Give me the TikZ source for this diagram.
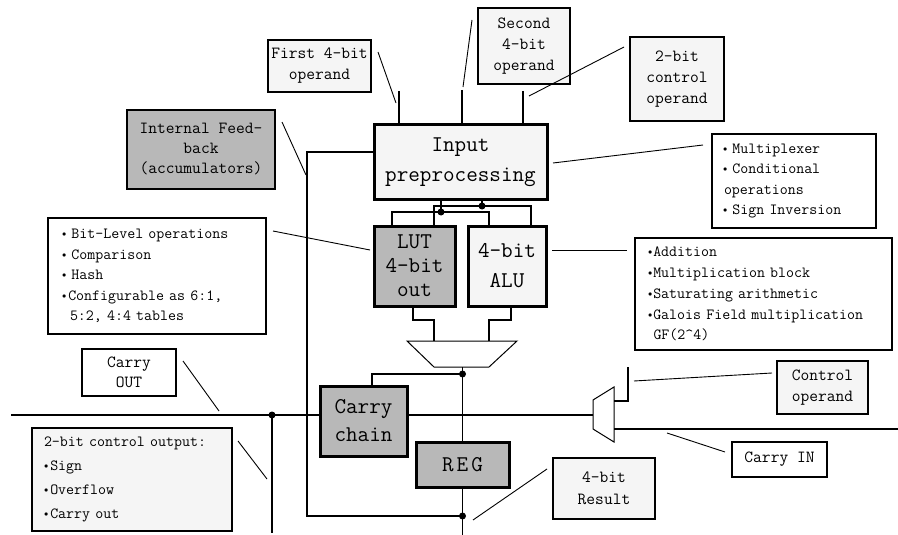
\documentclass[tikz,border=0pt]{standalone}
\definecolor{lightfill}{gray}{0.96}
\definecolor{darkfill}{gray}{0.72}
\newcommand\dotb{\raisebox{2pt}{\fontsize{8.5}{9}\selectfont$\bullet$}}
\begin{document}
\begin{tikzpicture}[x=1pt,y=-1pt,
  wire/.style={line width=1.2pt},
  leader/.style={line width=0.9pt},
  lbox/.style={draw, line width=1.1pt, anchor=north west, inner sep=0pt, outer sep=0pt,
    align=center, font=\ttfamily\fontsize{17}{21}\selectfont},
  bigbox/.style={draw, line width=3pt, anchor=north west, inner sep=0pt, outer sep=0pt,
    align=center, font=\ttfamily\fontsize{22.5}{27}\selectfont},
  infobox/.style={draw, line width=1.1pt, anchor=north west, inner ysep=0pt, outer sep=0pt,
    align=left, font=\ttfamily\fontsize{15.5}{20.4}\selectfont},
  jdot/.style={circle, fill, inner sep=0pt, minimum size=7pt}
]
\useasboundingbox (0,0) rectangle (898,535);

% ---------- labels ----------
\node[lbox, fill=lightfill, minimum width=103, minimum height=52] (first) at (268,40) {First 4-bit\\operand};
\node[lbox, fill=lightfill, minimum width=92, minimum height=76] (second) at (478,8) {Second\\4-bit\\operand};
\node[lbox, fill=lightfill, minimum width=94, minimum height=84] (ctrl2) at (630,37) {2-bit\\control\\operand};
\node[lbox, fill=darkfill, minimum width=148, minimum height=79, font=\ttfamily\fontsize{17}{20}\selectfont] (fb) at (127,110) {Internal Feed-\\back\\(accumulators)};
\node[lbox, fill=white, minimum width=94, minimum height=47, font=\ttfamily\fontsize{17}{20}\selectfont] (cout) at (82,349) {Carry\\OUT};
\node[lbox, fill=lightfill, minimum width=91, minimum height=53] (ctrlop) at (777,361) {Control\\operand};
\node[lbox, fill=white, minimum width=95, minimum height=35] (cin) at (732,442) {Carry IN};
\node[lbox, fill=lightfill, minimum width=102, minimum height=61, font=\ttfamily\fontsize{17}{22}\selectfont] (res) at (553,458) {4-bit\\Result};

% ---------- bullet lists ----------
\node[infobox, fill=white, inner xsep=14pt, text width=190pt, minimum height=116] (bitinfo) at (48,218)
  {\dotb\ Bit-Level operations\\\dotb\ Comparison\\\dotb\ Hash\\\dotb\kern2pt Configurable as 6:1,\\\hspace*{8pt}5:2, 4:4 tables};
\node[infobox, fill=white, inner xsep=11pt, text width=142pt, minimum height=94] (muxinfo) at (712,134)
  {\dotb\ Multiplexer\\\dotb\ Conditional\\\hspace*{1pt}operations\\\dotb\ Sign Inversion};
\node[infobox, fill=white, inner xsep=13pt, text width=231pt, minimum height=112, font=\ttfamily\fontsize{15.5}{20.8}\selectfont] (aluinfo) at (635,238)
  {\dotb\kern1pt Addition\\\dotb\kern1pt Multiplication block\\\dotb\kern1pt Saturating arithmetic\\\dotb\kern1pt Galois Field multiplication\\\hspace*{5.5pt}GF(2\textasciicircum4)};
\node[infobox, fill=lightfill, inner xsep=12pt, text width=176pt, minimum height=103, font=\ttfamily\fontsize{15.5}{24}\selectfont] (ctrlout) at (32,428)
  {2-bit control output:\\\dotb\kern2pt Sign\\\dotb\kern2pt Overflow\\\dotb\kern2pt Carry out};

% ---------- functional blocks ----------
\node[bigbox, fill=lightfill, minimum width=173, minimum height=74, font=\ttfamily\fontsize{22.5}{30}\selectfont] (inp) at (374,125) {Input\\preprocessing};
\node[bigbox, fill=darkfill, minimum width=81, minimum height=80, font=\ttfamily\fontsize{22.5}{24}\selectfont] (lut) at (374,226) {LUT\\4-bit\\out};
\node[bigbox, fill=lightfill, minimum width=78, minimum height=80, font=\ttfamily\fontsize{22.5}{30}\selectfont] (alu) at (468,226) {4-bit\\ALU};
\node[bigbox, fill=darkfill, minimum width=87, minimum height=70, font=\ttfamily\fontsize{22.5}{28}\selectfont] (cc) at (320,386) {Carry\\chain};
\node[bigbox, fill=darkfill, minimum width=93, minimum height=45] (reg) at (416,442) {R\kern3pt E\kern3pt G};

% ---------- output multiplexer ----------
\coordinate (muxTL) at (407,341);
\coordinate (muxTR) at (517,341);
\coordinate (muxBR) at (489,367);
\coordinate (muxBL) at (434,367);
\coordinate (muxinL) at (434,341);
\coordinate (muxinR) at (489,341);
\coordinate (muxout) at (462.5,367);
\draw[line width=1pt] (muxTL) -- (muxTR) -- (muxBR) -- (muxBL) -- cycle;

% ---------- carry-in selector ----------
\coordinate (dmxA) at (593,400);
\coordinate (dmxB) at (614,387);
\coordinate (dmxC) at (614,442);
\coordinate (dmxD) at (593,429);
\coordinate (dmxin) at (593,415);
\coordinate (dmxc) at (614,401);
\coordinate (dmxn) at (614,429);
\draw[line width=1pt] (dmxA) -- (dmxB) -- (dmxC) -- (dmxD) -- cycle;

% ---------- junctions and free wire ends ----------
\coordinate (dotA) at (441,212);
\coordinate (dotB) at (482,206);
\coordinate (mdot) at (462.5,374);
\coordinate (resdot) at (462.5,516);
\coordinate (cdot) at (272,415);
\coordinate (in1) at (399,91);
\coordinate (in2) at (462,90);
\coordinate (in3) at (523,91);
\coordinate (fbtop) at (307,152);
\coordinate (fbbot) at (307,516);
\coordinate (regout) at (462.5,535);
\coordinate (cl) at (11,415);
\coordinate (cdown) at (272,533);
\coordinate (ctrlin) at (628,367);
\coordinate (cinend) at (898,429);

% ---------- wires ----------
\draw[wire] (in1) -- (in1 |- inp.north);
\draw[wire] (in2) -- (in2 |- inp.north);
\draw[wire] (in3) -- (in3 |- inp.north);
\draw[wire] (inp.west |- fbtop) -- (fbtop) -- (fbbot) -- (resdot);
\draw[wire] (dotA |- inp.south) -- (dotA);
\draw[wire] ([xshift=-22.5pt]lut.north) |- (dotA) -| ([xshift=-18pt]alu.north);
\draw[wire] (dotB |- inp.south) -- (dotB);
\draw[wire] ([xshift=19.5pt]lut.north) |- (dotB) -| ([xshift=24pt]alu.north);
\draw[wire] ([xshift=-1.5pt]lut.south) -- ++(0,14) -| (muxinL);
\draw[wire] ([xshift=4pt]alu.south) -- ++(0,14) -| (muxinR);
\draw[wire] (muxout) -- (mdot) -- (reg.north);
\draw[wire] (mdot) -| ([xshift=8.5pt]cc.north);
\draw[wire] (reg.south) -- (regout);
\draw[wire] (cl) -- (cl -| cc.west);
\draw[wire] (cl -| cc.east) -- (dmxin);
\draw[wire] (cdot) -- (cdown);
\draw[wire] (dmxc) -| (ctrlin);
\draw[wire] (dmxn) -- (cinend);

\foreach \d in {dotA,dotB,mdot,resdot,cdot} \node[jdot] at (\d) {};

% ---------- label leaders ----------
\coordinate (l1a) at (378,52);  \coordinate (l1b) at (396,103);
\coordinate (l2a) at (472,20);  \coordinate (l2b) at (463,87);
\coordinate (l3a) at (624,47);  \coordinate (l3b) at (529,96);
\coordinate (l4a) at (282,122); \coordinate (l4b) at (306,175);
\coordinate (l5a) at (553,163); \coordinate (l5b) at (703,145);
\coordinate (l6a) at (273,231); \coordinate (l6b) at (370,250);
\coordinate (l7a) at (552,250); \coordinate (l7b) at (627,250);
\coordinate (l8a) at (183,361); \coordinate (l8b) at (219,411);
\coordinate (l9a) at (238,441); \coordinate (l9b) at (267,479);
\coordinate (l10a) at (634,381); \coordinate (l10b) at (772,373);
\coordinate (l11a) at (667,433); \coordinate (l11b) at (725,452);
\coordinate (l12a) at (547,469); \coordinate (l12b) at (473,520);
\foreach \i in {1,...,12} \draw[leader] (l\i a) -- (l\i b);
\end{tikzpicture}
\end{document}
